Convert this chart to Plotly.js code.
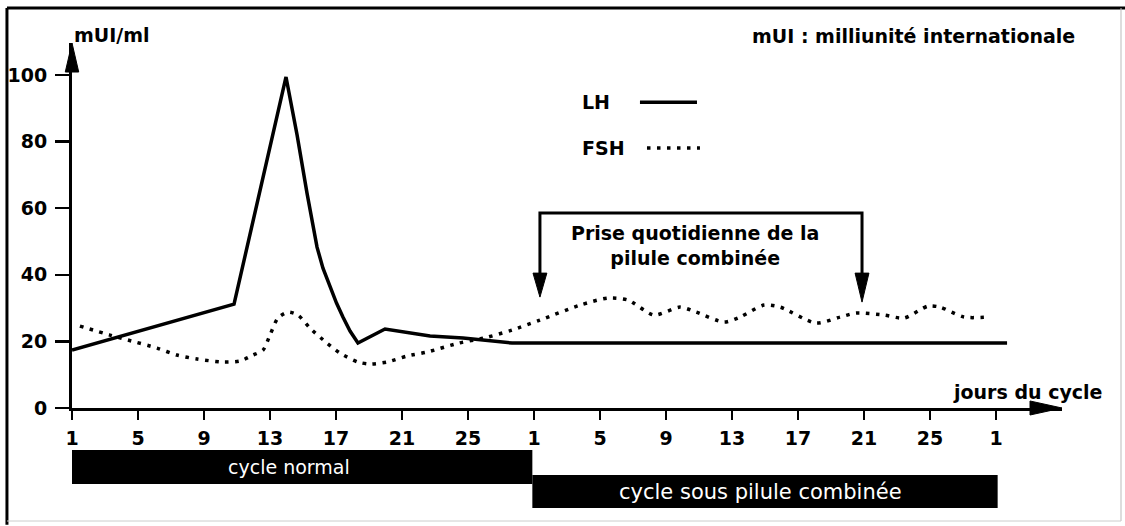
<!DOCTYPE html>
<html>
<head>
<meta charset="utf-8">
<script src="https://cdn.plot.ly/plotly-3.0.1.min.js"></script>
<style>html,body{margin:0;padding:0;background:#fff;}#chart{width:1125px;height:526px;}</style>
</head>
<body>
<div id="chart"></div>
<script>
// Day index: 0 = day 1 of the normal cycle, 28 = day 1 of the cycle under the pill
const lhDay   = [0, 9.82, 12.97, 13.64, 14.24, 14.55, 14.85, 15.21, 15.64, 16.03, 16.42, 16.85, 17.33, 18.97, 21.70, 23.70, 26.67, 56.67];
const lhValue = [17.4, 31.2, 99.4, 82.0, 64.6, 56.2, 48.3, 42.0, 36.3, 31.5, 27.3, 23.1, 19.5, 23.7, 21.6, 21.0, 19.5, 19.5];

const fshDay   = [0.48, 2.30, 3.39, 5.15, 6.36, 7.58, 9.15, 10.18, 10.97, 11.58, 12.00, 12.48, 13.09, 13.70, 14.42, 15.45, 16.24, 17.33, 18.06, 19.09, 20.30, 21.52, 23.45, 24.97, 26.67, 28.36, 30.79, 32.48, 33.70, 35.27, 36.85, 37.82, 39.52, 40.48, 41.94, 42.91, 45.09, 46.55, 47.52, 49.21, 50.42, 51.88, 52.61, 54.06, 55.52];
const fshValue = [24.6, 21.9, 20.4, 18.0, 15.9, 14.7, 13.8, 14.1, 15.9, 17.4, 21.9, 27.0, 28.8, 27.9, 24.0, 19.5, 16.5, 13.8, 13.2, 13.8, 15.6, 16.8, 19.5, 21.0, 23.4, 26.4, 30.9, 33.0, 32.4, 27.9, 30.3, 28.8, 25.8, 27.3, 30.9, 30.3, 25.5, 27.3, 28.5, 27.9, 27.0, 30.6, 30.3, 27.3, 27.3];

const dayTickVals   = [0, 4, 8, 12, 16, 20, 24, 28, 32, 36, 40, 44, 48, 52, 56];
const dayTickLabels = ['1','5','9','13','17','21','25','1','5','9','13','17','21','25','1'];
const yTickVals     = [0, 20, 40, 60, 80, 100];

const phaseNames = ['cycle normal', 'cycle sous pilule combinée'];
const phaseStart = [0, 27.9];
const phaseEnd   = [27.9, 56.1];

const pillStartDay = 28.36;
const pillEndDay   = 47.88;

const BOLD = {family: 'DejaVu Sans', size: 19, color: '#000', weight: 'bold'};

const traces = [
  {x: lhDay, y: lhValue, type: 'scatter', mode: 'lines', name: 'LH',
   line: {color: '#000', width: 3.5, shape: 'linear'}, hoverinfo: 'skip'},
  {x: fshDay, y: fshValue, type: 'scatter', mode: 'lines', name: 'FSH',
   line: {color: '#000', width: 3.5, dash: '3.5px,6.5px', shape: 'spline', smoothing: 0.7}, hoverinfo: 'skip'}
];

const shapes = [
  // axis arrowheads
  {type: 'path', xref: 'paper', yref: 'paper', path: 'M -0.0068,0.9205 L 0,1 L 0.0068,0.9205 Z', fillcolor: '#000', line: {color: '#000', width: 1}},
  {type: 'path', xref: 'paper', yref: 'paper', path: 'M 0.9677,-0.0192 L 1,0 L 0.9677,0.0192 Z', fillcolor: '#000', line: {color: '#000', width: 1}},
  // bracket for pill intake
  {type: 'path', xref: 'x', yref: 'y', path: `M ${pillStartDay},40 L ${pillStartDay},58.56 L ${pillEndDay},58.56 L ${pillEndDay},40`, line: {color: '#000', width: 3}},
  {type: 'path', xref: 'x', yref: 'y', path: `M ${pillStartDay-0.42},40.5 L ${pillStartDay},33.3 L ${pillStartDay+0.42},40.5 Z`, fillcolor: '#000', line: {color: '#000', width: 1}},
  {type: 'path', xref: 'x', yref: 'y', path: `M ${pillEndDay-0.42},40.5 L ${pillEndDay},31.8 L ${pillEndDay+0.42},40.5 Z`, fillcolor: '#000', line: {color: '#000', width: 1}},
  // legend samples
  {type: 'line', xref: 'paper', yref: 'paper', x0: 0.5737, x1: 0.6313, y0: 0.838, y1: 0.838, line: {color: '#000', width: 3.5}},
  {type: 'line', xref: 'paper', yref: 'paper', x0: 0.5808, x1: 0.6343, y0: 0.712, y1: 0.712, line: {color: '#000', width: 3.5, dash: '3.5px,6.5px'}},
  // phase bars
  {type: 'rect', xref: 'x', yref: 'paper', x0: phaseStart[0], x1: phaseEnd[0], y0: -0.208, y1: -0.115, fillcolor: '#000', line: {width: 0}},
  {type: 'rect', xref: 'x', yref: 'paper', x0: phaseStart[1], x1: phaseEnd[1], y0: -0.274, y1: -0.1836, fillcolor: '#000', line: {width: 0}},
  // frame
  {type: 'line', xref: 'paper', yref: 'paper', x0: -0.0657, x1: -0.0657, y0: -0.32, y1: 1.0959, line: {color: '#000', width: 3}},
  {type: 'line', xref: 'paper', yref: 'paper', x0: -0.0657, x1: 1.07, y0: 1.0959, y1: 1.0959, line: {color: '#000', width: 3}},
  {type: 'line', xref: 'paper', yref: 'paper', x0: 1.0596, x1: 1.0596, y0: -0.3096, y1: 1.0959, line: {color: '#bbb', width: 1}},
  {type: 'line', xref: 'paper', yref: 'paper', x0: -0.0657, x1: 1.0596, y0: -0.3096, y1: -0.3096, line: {color: '#ccc', width: 1}}
];

const annotations = [
  {text: 'mUI/ml', xref: 'paper', yref: 'paper', x: 0, y: 1.022, xanchor: 'left', yanchor: 'middle', showarrow: false, font: BOLD},
  {text: 'mUI : milliunité internationale', xref: 'paper', yref: 'paper', x: 1.015, y: 1.019, xanchor: 'right', yanchor: 'middle', showarrow: false, font: BOLD},
  {text: 'LH', xref: 'paper', yref: 'paper', x: 0.513, y: 0.838, xanchor: 'left', yanchor: 'middle', showarrow: false, font: BOLD},
  {text: 'FSH', xref: 'paper', yref: 'paper', x: 0.513, y: 0.712, xanchor: 'left', yanchor: 'middle', showarrow: false, font: BOLD},
  {text: 'jours du cycle', xref: 'paper', yref: 'paper', x: 1.042, y: 0.044, xanchor: 'right', yanchor: 'middle', showarrow: false, font: BOLD},
  {text: 'Prise quotidienne de la<br>pilule combinée', xref: 'paper', yref: 'paper', x: 0.629, y: 0.445, xanchor: 'center', yanchor: 'middle', showarrow: false, font: BOLD},
  {text: phaseNames[0], xref: 'x', yref: 'paper', x: (phaseStart[0] + phaseEnd[0]) / 2 - 0.8, y: -0.1616, xanchor: 'center', yanchor: 'middle', showarrow: false,
   font: {family: 'DejaVu Sans', size: 19, color: '#fff'}},
  {text: phaseNames[1], xref: 'x', yref: 'paper', x: (phaseStart[1] + phaseEnd[1]) / 2 - 0.3, y: -0.230, xanchor: 'center', yanchor: 'middle', showarrow: false,
   font: {family: 'DejaVu Sans', size: 21, color: '#fff'}}
];

const layout = {
  width: 1125, height: 526,
  margin: {l: 72, r: 63, t: 43, b: 118, pad: 0},
  paper_bgcolor: '#fff', plot_bgcolor: '#fff',
  showlegend: false,
  xaxis: {range: [0, 60], showline: true, linewidth: 3, linecolor: '#000', zeroline: false, showgrid: false,
          ticks: 'outside', ticklen: 9, tickwidth: 2.5, tickcolor: '#000',
          tickvals: dayTickVals, ticktext: dayTickLabels, tickfont: BOLD, ticklabelstandoff: 2, fixedrange: true},
  yaxis: {range: [0, 109.6], showline: true, linewidth: 3, linecolor: '#000', zeroline: false, showgrid: false,
          ticks: 'outside', ticklen: 14, tickwidth: 2.5, tickcolor: '#000',
          tickvals: yTickVals, tickfont: BOLD, ticklabelstandoff: 4, fixedrange: true},
  shapes: shapes,
  annotations: annotations
};

Plotly.newPlot('chart', traces, layout, {staticPlot: true, displayModeBar: false});
</script>
</body>
</html>
